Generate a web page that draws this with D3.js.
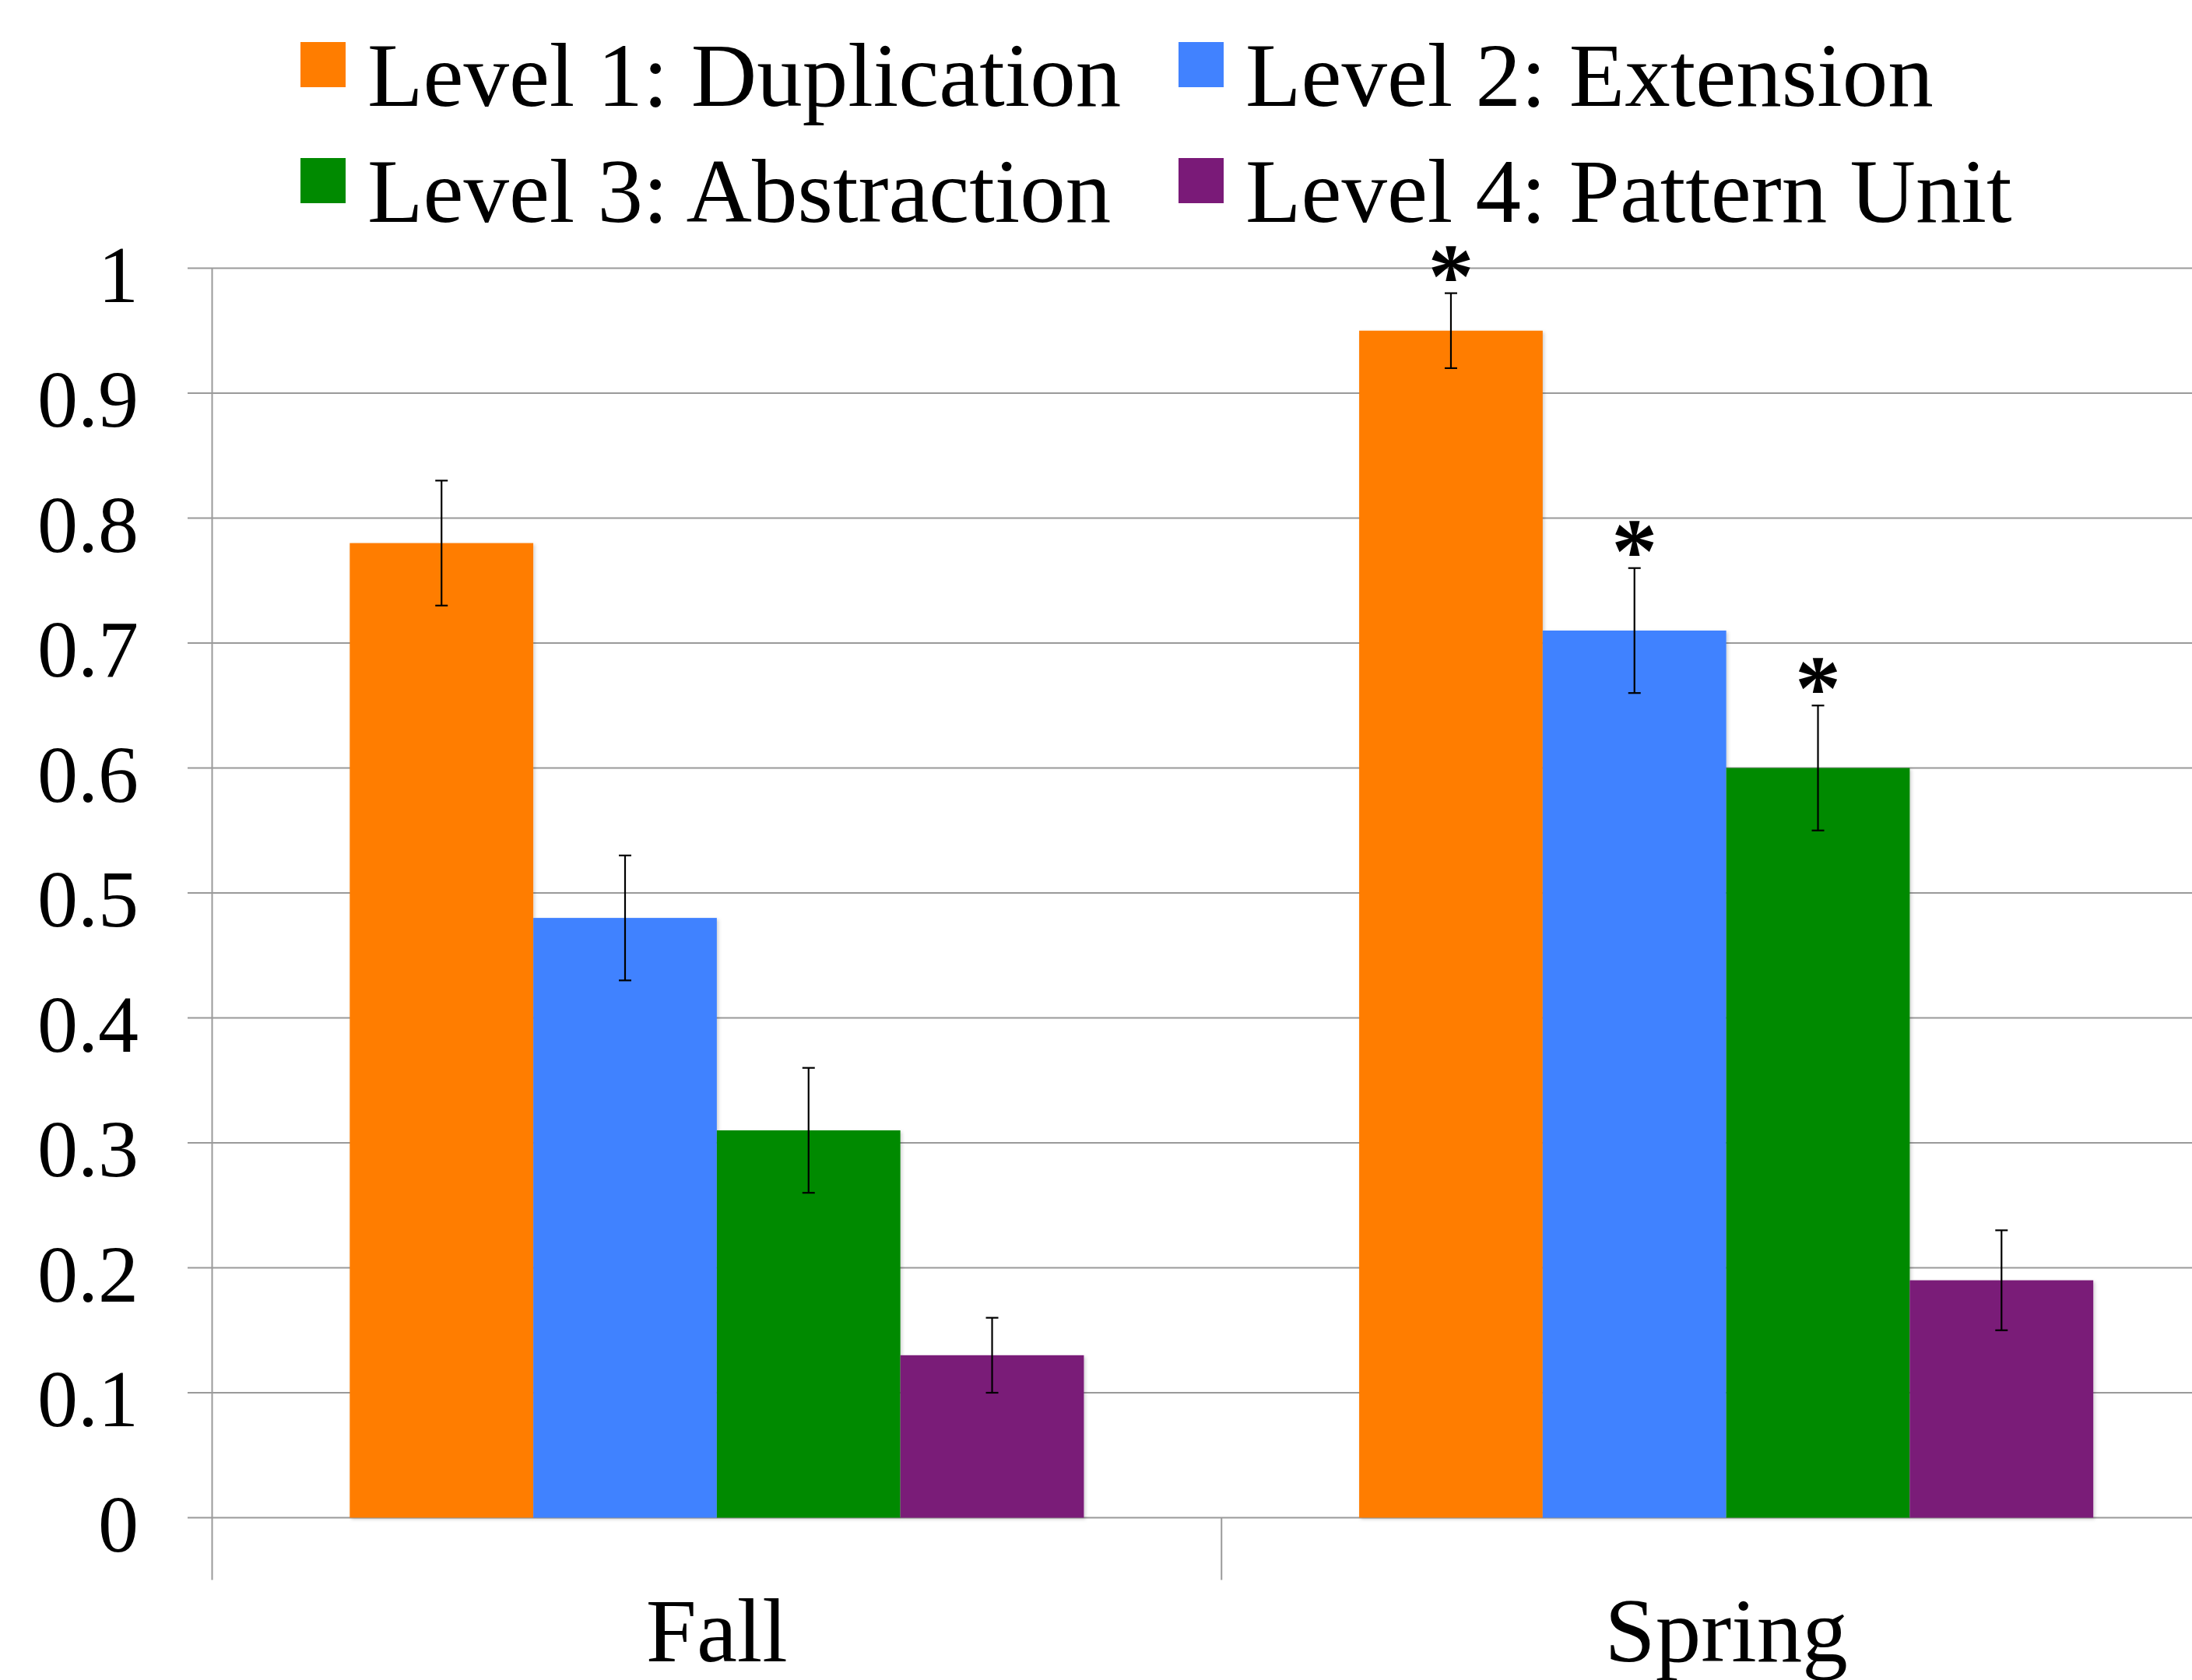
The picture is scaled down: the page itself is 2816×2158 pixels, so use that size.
<!DOCTYPE html>
<html>
<head>
<meta charset="utf-8">
<script src="https://cdn.jsdelivr.net/npm/d3@7"></script>
<style>
  html, body { margin: 0; padding: 0; background: #fff; }
  svg { display: block; }
</style>
</head>
<body>
<svg id="chart" width="2816" height="2158"></svg>
<script>
// ---- Data ----
const categories = ["Fall", "Spring"];
const seriesNames = ["Level 1: Duplication", "Level 2: Extension", "Level 3: Abstraction", "Level 4: Pattern Unit"];
const seriesColors = ["#FF7D00", "#4182FF", "#008A00", "#7A1A78"];
const fallValues = [0.78, 0.48, 0.31, 0.13];
const springValues = [0.95, 0.71, 0.60, 0.19];
const fallErrors = [0.05, 0.05, 0.05, 0.03];
const springErrors = [0.03, 0.05, 0.05, 0.04];
const fallSignificant = [false, false, false, false];
const springSignificant = [true, true, true, false];
const yTickValues = [0, 0.1, 0.2, 0.3, 0.4, 0.5, 0.6, 0.7, 0.8, 0.9, 1];
const yTickLabels = ["0", "0.1", "0.2", "0.3", "0.4", "0.5", "0.6", "0.7", "0.8", "0.9", "1"];

const valuesByCat = { Fall: fallValues, Spring: springValues };
const errorsByCat = { Fall: fallErrors, Spring: springErrors };
const sigByCat = { Fall: fallSignificant, Spring: springSignificant };

const rows = [];
categories.forEach(c => {
  seriesNames.forEach((s, i) => {
    rows.push({ cat: c, series: s, idx: i, value: valuesByCat[c][i], err: errorsByCat[c][i], sig: sigByCat[c][i] });
  });
});

// ---- Layout ----
const svg = d3.select("#chart");
const FONT = "'Liberation Serif', 'Times New Roman', Times, serif";
const plotLeft = 272.5, plotRight = 2866, plotTop = 344.5, plotBottom = 1949.5;
const gridColor = "#9a9a9a";

const x0 = d3.scaleBand().domain(categories).range([plotLeft, plotRight]).paddingInner(0).paddingOuter(0);
const x1 = d3.scaleBand().domain(seriesNames).range([0, x0.bandwidth()]).paddingInner(0).paddingOuter(0.75);
const y = d3.scaleLinear().domain([0, 1]).range([plotBottom, plotTop]);

// gridlines
svg.append("g").selectAll("line").data(yTickValues).join("line")
  .attr("x1", 241).attr("x2", 2816)
  .attr("y1", d => y(d)).attr("y2", d => y(d))
  .attr("stroke", gridColor).attr("stroke-width", 2);

// y axis line
svg.append("line")
  .attr("x1", plotLeft).attr("x2", plotLeft)
  .attr("y1", plotTop).attr("y2", plotBottom + 80)
  .attr("stroke", gridColor).attr("stroke-width", 2);

// category boundary ticks
const boundaries = categories.slice(1).map(c => x0(c));
svg.append("g").selectAll("line").data(boundaries).join("line")
  .attr("x1", d => d).attr("x2", d => d)
  .attr("y1", plotBottom).attr("y2", plotBottom + 80)
  .attr("stroke", gridColor).attr("stroke-width", 2);

// y tick labels
svg.append("g").selectAll("text").data(yTickValues).join("text")
  .attr("x", 178).attr("y", d => y(d) + 43)
  .attr("text-anchor", "end")
  .attr("font-family", FONT).attr("font-size", 104).attr("fill", "#000")
  .text((d, i) => yTickLabels[i]);

// shadow filter
const defs = svg.append("defs");
const f = defs.append("filter").attr("id", "shadow").attr("x", "-5%").attr("y", "-5%").attr("width", "115%").attr("height", "115%");
f.append("feDropShadow").attr("dx", 2).attr("dy", 2).attr("stdDeviation", 2).attr("flood-color", "#000").attr("flood-opacity", 0.18);

// bars
svg.append("g").selectAll("rect").data(rows).join("rect")
  .attr("x", d => x0(d.cat) + x1(d.series))
  .attr("y", d => y(d.value))
  .attr("width", x1.bandwidth())
  .attr("height", d => y(0) - y(d.value))
  .attr("fill", d => seriesColors[d.idx])
  .attr("filter", "url(#shadow)");

// error bars
const eb = svg.append("g").attr("stroke", "#000").attr("stroke-width", 2.2);
rows.forEach(d => {
  const cx = x0(d.cat) + x1(d.series) + x1.bandwidth() / 2;
  const top = y(d.value + d.err), bot = y(d.value - d.err);
  eb.append("line").attr("x1", cx).attr("x2", cx).attr("y1", top).attr("y2", bot);
  eb.append("line").attr("x1", cx - 8).attr("x2", cx + 8).attr("y1", top).attr("y2", top);
  eb.append("line").attr("x1", cx - 8).attr("x2", cx + 8).attr("y1", bot).attr("y2", bot);
});

// significance asterisks
svg.append("g").selectAll("text").data(rows.filter(d => d.sig)).join("text")
  .attr("x", d => x0(d.cat) + x1(d.series) + x1.bandwidth() / 2)
  .attr("y", d => y(d.value + d.err) + 18)
  .attr("text-anchor", "middle")
  .attr("font-family", FONT).attr("font-size", 118).attr("font-weight", "bold").attr("fill", "#000")
  .text("*");

// category labels
svg.append("g").selectAll("text").data(categories).join("text")
  .attr("x", d => x0(d) + x0.bandwidth() / 2)
  .attr("y", 2134)
  .attr("text-anchor", "middle")
  .attr("font-family", FONT).attr("font-size", 117).attr("fill", "#000")
  .text(d => d);

// legend
const legendCols = [386, 1514];
const legendRows = [54, 203];
const lg = svg.append("g");
seriesNames.forEach((s, i) => {
  const lx = legendCols[i % 2], ly = legendRows[Math.floor(i / 2)];
  lg.append("rect").attr("x", lx).attr("y", ly).attr("width", 58).attr("height", 58).attr("fill", seriesColors[i]);
  lg.append("text").attr("x", lx + 86).attr("y", ly + 82)
    .attr("font-family", FONT).attr("font-size", 117).attr("fill", "#000")
    .text(s);
});
</script>
</body>
</html>
